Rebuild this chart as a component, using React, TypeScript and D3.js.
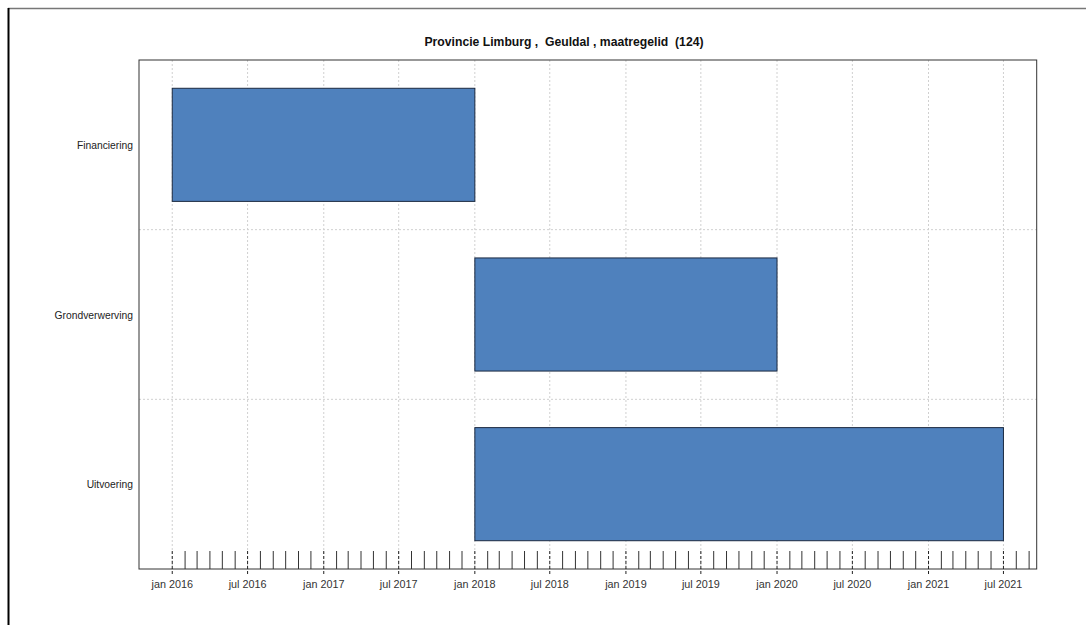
import React from "react";
import * as d3 from "d3";

const title = "Provincie Limburg ,  Geuldal , maatregelid  (124)";
const phases = ["Financiering", "Grondverwerving", "Uitvoering"];
const starts = ["2016-01-01", "2018-01-01", "2018-01-01"];
const ends = ["2018-01-01", "2020-01-01", "2021-07-01"];
const majorTicks = ["2016-01-01", "2016-07-01", "2017-01-01", "2017-07-01", "2018-01-01", "2018-07-01", "2019-01-01", "2019-07-01", "2020-01-01", "2020-07-01", "2021-01-01", "2021-07-01"];
const monthNames = ["jan", "feb", "mrt", "apr", "mei", "jun", "jul", "aug", "sep", "okt", "nov", "dec"];

const W = 1086, H = 625;
const left = 139, right = 1036.7, top = 60, bottom = 569;
const parse = d3.utcParse("%Y-%m-%d");

export default function App() {
  const allDates = [...starts, ...ends].map((s) => parse(s)!);
  const [dMin, dMax] = d3.extent(allDates) as [Date, Date];
  const span = +dMax - +dMin;
  const x = d3.scaleUtc()
    .domain([new Date(+dMin - span * 0.04), new Date(+dMax + span * 0.04)])
    .range([left, right]);
  const y = d3.scaleBand<string>().domain(phases).range([top, bottom]).paddingInner(0).paddingOuter(0);
  const barH = y.bandwidth() * 2 / 3;
  const minor = d3.utcMonth.range(dMin, x.domain()[1]);
  const majors = majorTicks.map((s) => parse(s)!);
  const fmt = (d: Date) => `${monthNames[d.getUTCMonth()]} ${d.getUTCFullYear()}`;
  const font = "'Liberation Sans', Arial, sans-serif";

  return (
    <svg width={W} height={H} style={{ position: "absolute", left: 0, top: 0, display: "block", background: "#fff" }} fontFamily={font}>
      <rect x={0} y={0} width={W} height={H} fill="#fff" />
      {/* outer frame */}
      <line x1={8} x2={W} y1={8.5} y2={8.5} stroke="#777" strokeWidth={1.5} />
      <line x1={8.5} x2={8.5} y1={8} y2={H} stroke="#000" strokeWidth={2} />

      <text x={564} y={46} textAnchor="middle" fontSize={12.2} fontWeight="bold" fill="#111" style={{ whiteSpace: "pre" }}>{title}</text>

      {/* vertical grid */}
      {majors.map((d, i) => (
        <line key={"g" + i} x1={x(d)} x2={x(d)} y1={top} y2={bottom} stroke="#d0d0d0" strokeDasharray="2,2" />
      ))}
      {/* horizontal separators */}
      {phases.slice(1).map((p, i) => (
        <line key={"h" + i} x1={left} x2={right} y1={y(p)!} y2={y(p)!} stroke="#d0d0d0" strokeDasharray="2,2" />
      ))}

      {/* bars */}
      {phases.map((p, i) => {
        const s = parse(starts[i])!, e = parse(ends[i])!;
        return (
          <rect key={"b" + i} x={x(s)} y={y(p)! + (y.bandwidth() - barH) / 2} width={x(e) - x(s)} height={barH}
            fill="#4F81BD" stroke="#1c2a40" strokeWidth={1} />
        );
      })}

      {/* category labels */}
      {phases.map((p, i) => (
        <text key={"l" + i} x={133} y={y(p)! + y.bandwidth() / 2 + 4} textAnchor="end" fontSize={10.3} fill="#222">{p}</text>
      ))}

      {/* plot border */}
      <rect x={left} y={top} width={right - left} height={bottom - top} fill="none" stroke="#333" strokeWidth={1} />

      {/* month ticks */}
      {minor.map((d, i) => {
        const isMajor = d.getUTCMonth() === 0 || d.getUTCMonth() === 6;
        return isMajor ? (
          <line key={"t" + i} x1={x(d)} x2={x(d)} y1={bottom - 18} y2={bottom + 6} stroke="#222" strokeDasharray="3,2" />
        ) : (
          <line key={"t" + i} x1={x(d)} x2={x(d)} y1={bottom - 18} y2={bottom} stroke="#333" strokeWidth={1} />
        );
      })}
      {majors.map((d, i) => (
        <text key={"x" + i} x={x(d)} y={588} textAnchor="middle" fontSize={10.8} fill="#333">{fmt(d)}</text>
      ))}
    </svg>
  );
}
